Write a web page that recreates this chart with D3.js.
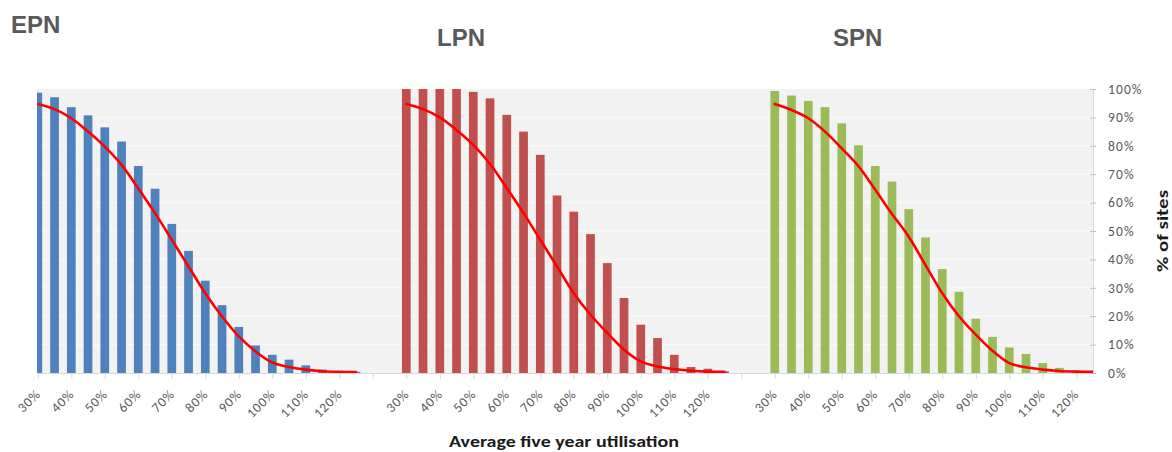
<!DOCTYPE html>
<html>
<head>
<meta charset="utf-8">
<script src="https://cdn.jsdelivr.net/npm/d3@7"></script>
<style>
  html, body { margin: 0; padding: 0; background: #ffffff; }
  svg { display: block; }
</style>
</head>
<body>
<svg id="chart" width="1172" height="452"></svg>
<script>
// ---- Data ----
const groups = ["EPN", "LPN", "SPN"];
const categories = ["30%","35%","40%","45%","50%","55%","60%","65%","70%","75%",
                    "80%","85%","90%","95%","100%","105%","110%","115%","120%","125%"];
const epnBars = [98.7, 97.1, 93.6, 90.7, 86.5, 81.5, 72.9, 64.9, 52.5, 43.0,
                 32.5, 23.9, 16.2, 9.7, 6.4, 4.7, 2.7, 1.2, 0.6, 0.4];
const lpnBars = [100, 100, 100, 100, 99.0, 96.7, 90.9, 85.0, 76.8, 62.5,
                 56.8, 48.9, 38.7, 26.4, 17.0, 12.3, 6.4, 2.1, 1.5, 0.6];
const spnBars = [99.3, 97.7, 95.8, 93.6, 87.9, 80.2, 72.9, 67.4, 57.7, 47.7,
                 36.6, 28.6, 19.1, 12.7, 9.0, 6.7, 3.5, 1.8, 0.8, 0.4];
const epnFit = [94.7, 92.9, 89.7, 85.0, 79.7, 73.3, 65.0, 56.3, 46.9, 37.5,
                28.1, 19.9, 12.9, 7.6, 3.7, 2.1, 1.2, 0.6, 0.4, 0.3];
const lpnFit = [94.7, 92.9, 90.0, 85.6, 80.3, 73.6, 65.1, 56.3, 46.9, 37.5,
                28.1, 20.5, 14.1, 8.2, 4.1, 2.3, 1.4, 0.8, 0.5, 0.4];
const spnFit = [94.7, 92.6, 89.7, 85.0, 79.1, 72.8, 64.5, 56.0, 48.0, 38.0,
                28.1, 20.0, 13.5, 7.8, 3.5, 2.0, 1.2, 0.7, 0.5, 0.4];
const yTickValues = [0, 10, 20, 30, 40, 50, 60, 70, 80, 90, 100];
const labelledCats = ["30%","40%","50%","60%","70%","80%","90%","100%","110%","120%"];
const barColors = {EPN: "#4f81bd", LPN: "#c0504d", SPN: "#9bbb59"};
const barsByGroup = {EPN: epnBars, LPN: lpnBars, SPN: spnBars};
const fitByGroup = {EPN: epnFit, LPN: lpnFit, SPN: spnFit};
const gapSlots = 2; // empty category slots after each group

// ---- Layout ----
const svg = d3.select("#chart");
const plot = {left: 37, right: 1093, top: 89, bottom: 373};

const slots = [];
groups.forEach(g => {
  categories.forEach((c, i) => slots.push({key: g + "|" + i, group: g, cat: c, idx: i}));
  for (let k = 0; k < gapSlots; k++) {
    const i = categories.length + k;
    slots.push({key: g + "|" + i, group: g, cat: "", idx: i});
  }
});
const axisSlots = slots.slice(0, slots.length - gapSlots);

const x = d3.scalePoint()
  .domain(axisSlots.map(s => s.key))
  .range([37.8, 1093])
  .padding(0);
const step = x.step();
const y = d3.scaleLinear().domain([0, 100]).range([plot.bottom, plot.top]);

svg.append("rect")
  .attr("x", plot.left).attr("y", plot.top)
  .attr("width", plot.right - plot.left).attr("height", plot.bottom - plot.top)
  .attr("fill", "#f2f2f2");

svg.append("g")
  .selectAll("line")
  .data(yTickValues.filter(v => v > 0 && v < 100))
  .join("line")
  .attr("x1", plot.left).attr("x2", plot.right)
  .attr("y1", d => y(d)).attr("y2", d => y(d))
  .attr("stroke", "#fbfbfb").attr("stroke-width", 1);

svg.append("defs").append("clipPath").attr("id", "clip")
  .append("rect")
  .attr("x", plot.left).attr("y", plot.top - 1)
  .attr("width", plot.right - plot.left).attr("height", plot.bottom - plot.top + 1);

const content = svg.append("g").attr("clip-path", "url(#clip)");

const barW = step * 0.52;
groups.forEach(g => {
  const data = barsByGroup[g].map((v, i) => ({key: g + "|" + i, v}));
  content.append("g")
    .selectAll("rect")
    .data(data)
    .join("rect")
    .attr("x", d => x(d.key) - barW / 2)
    .attr("width", barW)
    .attr("y", d => y(d.v))
    .attr("height", d => y(0) - y(d.v))
    .attr("fill", barColors[g]);
});

const line = d3.line()
  .x(d => x(d.key))
  .y(d => y(d.v))
  .curve(d3.curveCatmullRom.alpha(0.5));
groups.forEach(g => {
  const data = fitByGroup[g].map((v, i) => ({key: g + "|" + i, v}));
  content.append("path")
    .datum(data)
    .attr("d", line)
    .attr("fill", "none")
    .attr("stroke", "#ff0000")
    .attr("stroke-width", 2.6)
    .attr("stroke-linejoin", "round")
    .attr("stroke-linecap", "round");
});

// x axis
const tickKeys = axisSlots.filter(s => s.idx % 2 === 0).map(s => s.key);
const slotByKey = new Map(axisSlots.map(s => [s.key, s]));
const xAxis = d3.axisBottom(x)
  .tickValues(tickKeys)
  .tickSizeInner(6).tickSizeOuter(0)
  .tickFormat(k => {
    const s = slotByKey.get(k);
    return labelledCats.includes(s.cat) ? s.cat : "";
  });
const gx = svg.append("g")
  .attr("transform", `translate(0,${plot.bottom})`)
  .call(xAxis);
gx.select(".domain").attr("stroke", "#d9d9d9").attr("d", `M${plot.left},0.5H${plot.right}`);
gx.selectAll(".tick line").attr("stroke", "#d9d9d9");
gx.selectAll(".tick text")
  .attr("fill", "#595959")
  .style("font-family", "Carlito, Lato, 'Liberation Sans', sans-serif")
  .style("font-size", "13.5px")
  .style("letter-spacing", "0.8px")
  .attr("text-anchor", "end")
  .attr("x", 0).attr("y", 0).attr("dy", 0)
  .attr("transform", "translate(3,22) rotate(-45)");

// right y axis
const yAxis = d3.axisRight(y)
  .tickValues(yTickValues)
  .tickSizeInner(4).tickSizeOuter(0)
  .tickPadding(11)
  .tickFormat(d => d + "%");
const gy = svg.append("g")
  .attr("transform", `translate(${plot.right},0)`)
  .call(yAxis);
gy.select(".domain").attr("stroke", "#d9d9d9");
gy.selectAll(".tick line").attr("stroke", "#bfbfbf").attr("x1", -3).attr("x2", 3);
gy.selectAll(".tick text")
  .attr("fill", "#595959")
  .style("font-family", "Carlito, Lato, 'Liberation Sans', sans-serif")
  .style("font-size", "13.5px")
  .style("letter-spacing", "1.1px");

// axis titles
svg.append("text")
  .attr("x", 564).attr("y", 447)
  .attr("text-anchor", "middle")
  .attr("fill", "#1a1a1a")
  .style("font-family", "Carlito, Lato, sans-serif")
  .style("font-weight", "bold")
  .style("font-size", "16px")
  .attr("textLength", 230)
  .attr("lengthAdjust", "spacingAndGlyphs")
  .text("Average five year utilisation");

svg.append("text")
  .attr("transform", "translate(1168,231) rotate(-90)")
  .attr("text-anchor", "middle")
  .attr("fill", "#1a1a1a")
  .style("font-family", "Carlito, Lato, sans-serif")
  .style("font-weight", "bold")
  .style("font-size", "15px")
  .attr("textLength", 82)
  .attr("lengthAdjust", "spacingAndGlyphs")
  .text("% of sites");

// group titles
const titlePos = {EPN: [11, 33], LPN: [437, 45.5], SPN: [833, 45.5]};
svg.append("g")
  .selectAll("text")
  .data(groups)
  .join("text")
  .attr("x", g => titlePos[g][0])
  .attr("y", g => titlePos[g][1])
  .attr("fill", "#595959")
  .style("font-family", "'Liberation Sans', Arial, sans-serif")
  .style("font-weight", "bold")
  .style("font-size", "24px")
  .text(g => g);
</script>
</body>
</html>
